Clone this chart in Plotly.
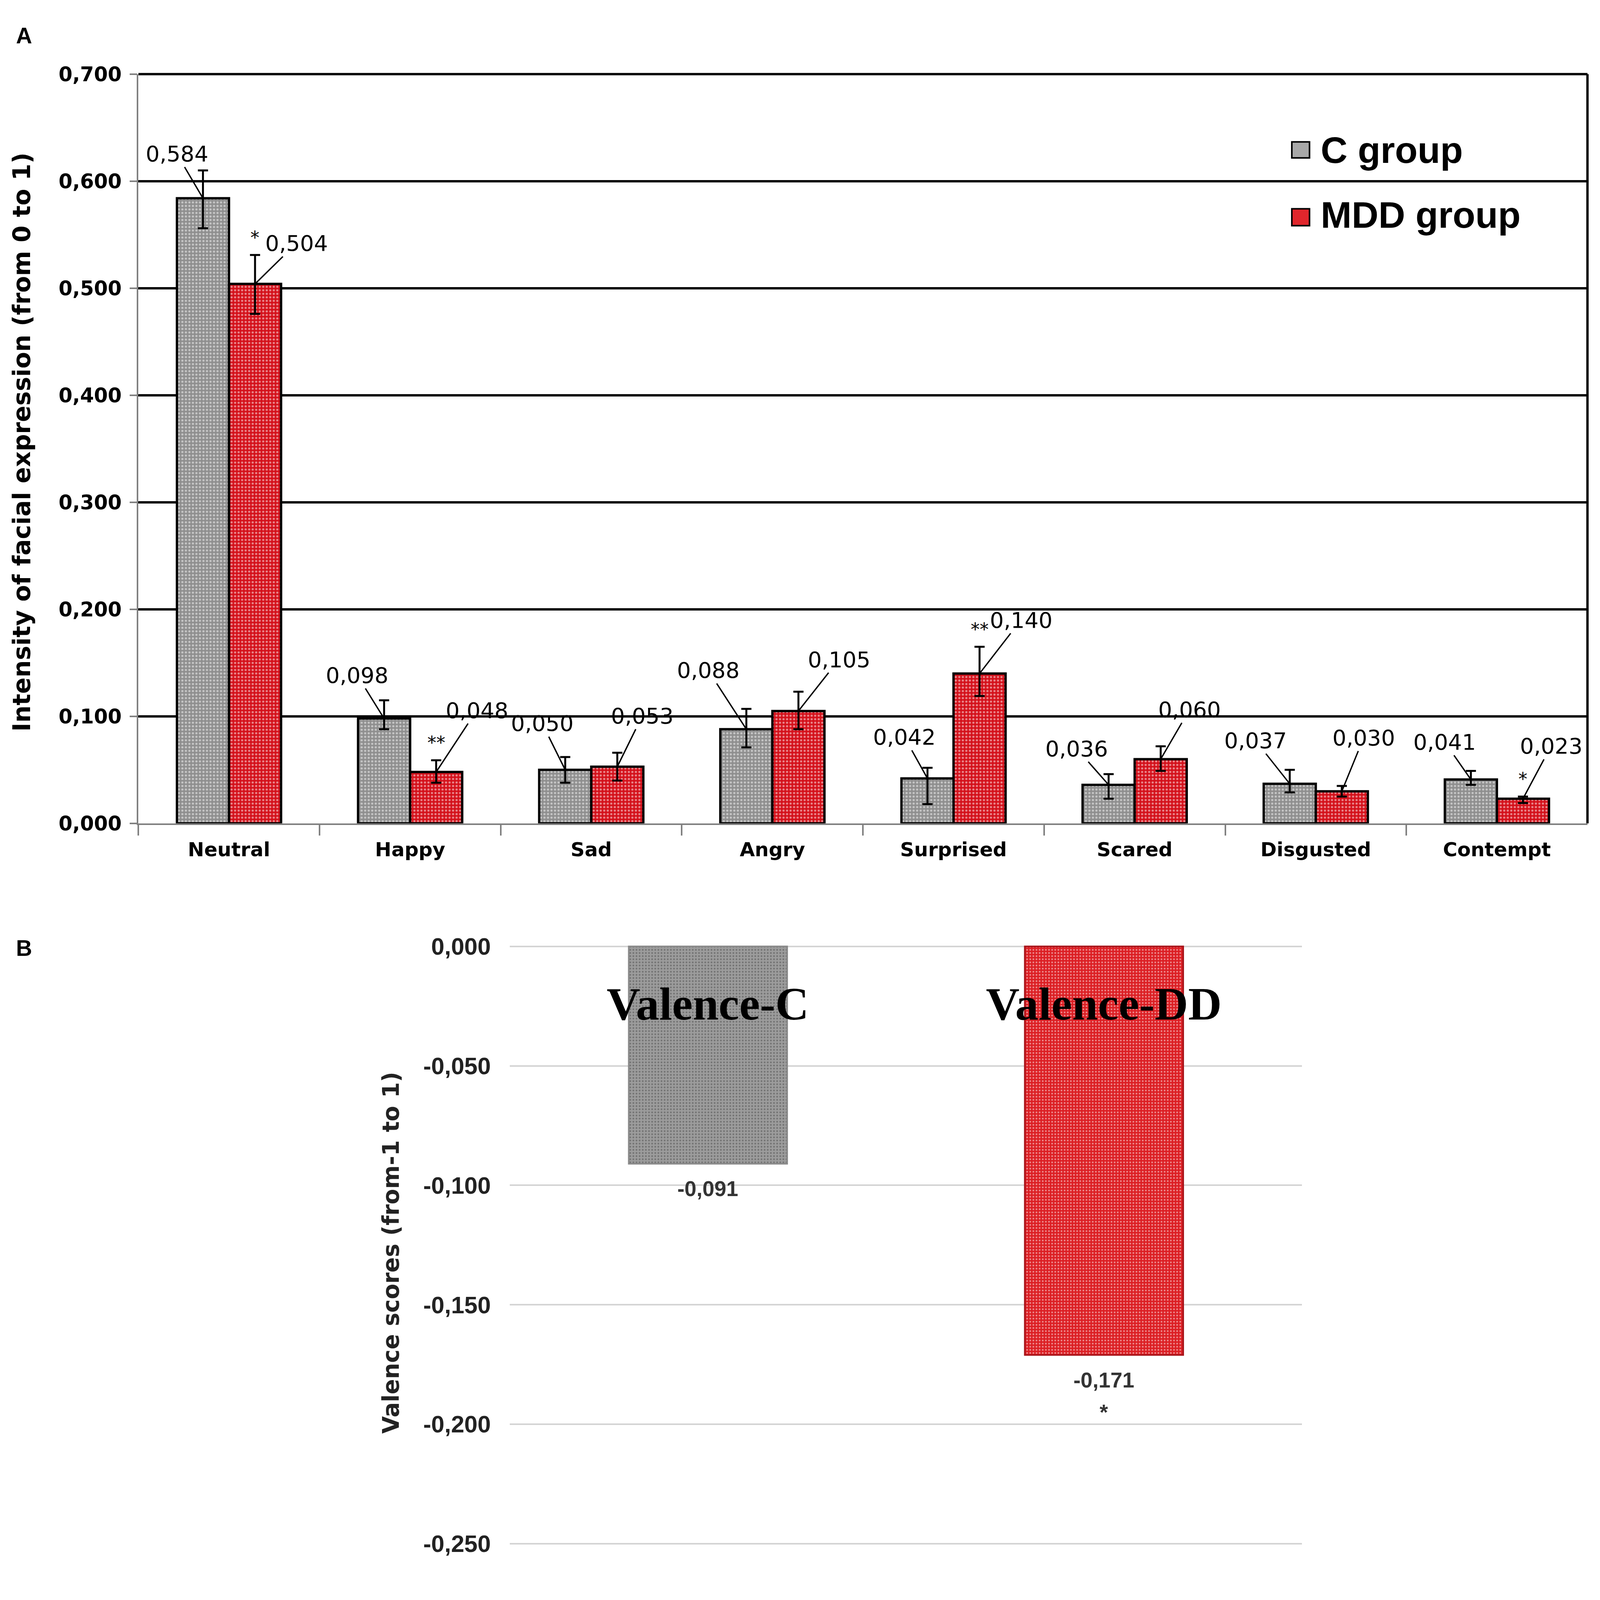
import plotly.graph_objects as go

# panel A data
emotions = ["Neutral", "Happy", "Sad", "Angry", "Surprised", "Scared", "Disgusted", "Contempt"]
c_group = [0.584, 0.098, 0.050, 0.088, 0.042, 0.036, 0.037, 0.041]
mdd_group = [0.504, 0.048, 0.053, 0.105, 0.140, 0.060, 0.030, 0.023]
c_err_up = [0.026, 0.017, 0.012, 0.019, 0.010, 0.010, 0.013, 0.008]
c_err_down = [0.028, 0.010, 0.012, 0.017, 0.024, 0.013, 0.008, 0.005]
mdd_err_up = [0.027, 0.011, 0.013, 0.018, 0.025, 0.012, 0.005, 0.002]
mdd_err_down = [0.028, 0.010, 0.013, 0.017, 0.021, 0.011, 0.005, 0.004]
mdd_sig = ["*", "**", "", "", "**", "", "", "*"]
a_ticks = [0.0, 0.1, 0.2, 0.3, 0.4, 0.5, 0.6, 0.7]
a_ticktext = ["0,000", "0,100", "0,200", "0,300", "0,400", "0,500", "0,600", "0,700"]

# panel B data
valence_groups = ["Valence-C", "Valence-DD"]
valence_scores = [-0.091, -0.171]
valence_sig = ["", "*"]
b_ticks = [0.0, -0.05, -0.10, -0.15, -0.20, -0.25]
b_ticktext = ["0,000", "-0,050", "-0,100", "-0,150", "-0,200", "-0,250"]

# where the leader-line labels sit, in px from the bar top
c_offsets = [(-67, -114), (-69, -111), (-59, -119), (-98, -151), (-59, -106), (-82, -93), (-88, -111), (-67, -96)]
mdd_offsets = [(106, -104), (104, -158), (64, -130), (104, -132), (106, -137), (74, -127), (56, -137), (72, -135)]

GRAY = "#8f8f8f"
RED = "#d4111b"
BARGAP = 0.425
half = (1 - BARGAP) / 4
SANS = "DejaVu Sans"


def fmt(v):
    return f"{v:.3f}".replace(".", ",")


fig = go.Figure()
fig.add_trace(go.Bar(
    x=emotions, y=c_group, name="C group", xaxis="x", yaxis="y",
    marker=dict(color=GRAY, line=dict(color="black", width=6),
                pattern=dict(shape=".", fgcolor="white", fillmode="overlay", size=9, solidity=0.3)),
    error_y=dict(type="data", symmetric=False, array=c_err_up, arrayminus=c_err_down,
                 color="black", thickness=5, width=13)))
fig.add_trace(go.Bar(
    x=emotions, y=mdd_group, name="MDD group", xaxis="x", yaxis="y",
    marker=dict(color=RED, line=dict(color="black", width=6),
                pattern=dict(shape=".", fgcolor="white", fillmode="overlay", size=9, solidity=0.3)),
    error_y=dict(type="data", symmetric=False, array=mdd_err_up, arrayminus=mdd_err_down,
                 color="black", thickness=5, width=13)))

fig.add_trace(go.Bar(
    x=valence_groups, y=valence_scores, xaxis="x2", yaxis="y2", width=0.4, showlegend=False,
    marker=dict(color=["#9c9c9c", "#dc1f24"], line=dict(color=["#8a8a8a", "#a8141a"], width=4),
                pattern=dict(shape=".", fgcolor="white", fillmode="overlay", size=8, solidity=0.25))))

annotations = []
for i in range(len(emotions)):
    annotations.append(dict(
        x=i - half, y=c_group[i], xref="x", yref="y", text=fmt(c_group[i]),
        showarrow=True, arrowhead=0, arrowwidth=3.5, arrowcolor="black",
        ax=c_offsets[i][0], ay=c_offsets[i][1],
        font=dict(family=SANS, size=56, color="black")))
    annotations.append(dict(
        x=i + half, y=mdd_group[i], xref="x", yref="y", text=fmt(mdd_group[i]),
        showarrow=True, arrowhead=0, arrowwidth=3.5, arrowcolor="black",
        ax=mdd_offsets[i][0], ay=mdd_offsets[i][1],
        font=dict(family=SANS, size=56, color="black")))
    if mdd_sig[i]:
        annotations.append(dict(
            x=i + half, y=mdd_group[i] + mdd_err_up[i], xref="x", yref="y", text=mdd_sig[i],
            showarrow=False, xanchor="center", yanchor="bottom", yshift=16,
            font=dict(family=SANS, size=46, color="black")))

for i, g in enumerate(valence_groups):
    annotations.append(dict(
        x=i, y=-0.024, xref="x2", yref="y2", text=g, showarrow=False,
        xanchor="center", yanchor="middle",
        font=dict(family="Liberation Serif", size=119, color="black", weight="bold")))
    annotations.append(dict(
        x=i, y=valence_scores[i], xref="x2", yref="y2", text=fmt(valence_scores[i]), showarrow=False,
        xanchor="center", yanchor="middle", yshift=-64,
        font=dict(family="Liberation Sans", size=55, color="#333333", weight="bold")))
    if valence_sig[i]:
        annotations.append(dict(
            x=i, y=valence_scores[i], xref="x2", yref="y2", text=valence_sig[i], showarrow=False,
            xanchor="center", yanchor="middle", yshift=-146,
            font=dict(family="Liberation Sans", size=55, color="#333333", weight="bold")))

# panel letters, axis titles, legend
annotations += [
    dict(x=0.013, y=0.987, xref="paper", yref="paper", text="A", showarrow=False,
         xanchor="center", yanchor="middle",
         font=dict(family="Liberation Sans", size=57, color="black", weight="bold")),
    dict(x=0.013, y=0.4056, xref="paper", yref="paper", text="B", showarrow=False,
         xanchor="center", yanchor="middle",
         font=dict(family="Liberation Sans", size=57, color="black", weight="bold")),
    dict(x=0.0118, y=0.728, xref="paper", yref="paper", text="Intensity of facial expression (from 0 to 1)",
         textangle=-90, showarrow=False, xanchor="center", yanchor="middle",
         font=dict(family=SANS, size=62, color="black", weight="bold")),
    dict(x=0.2436, y=0.2117, xref="paper", yref="paper", text="Valence scores (from-1 to 1)",
         textangle=-90, showarrow=False, xanchor="center", yanchor="middle",
         font=dict(family=SANS, size=58, color="#222222", weight="bold")),
    dict(x=0.8263, y=0.9142, xref="paper", yref="paper", text="C group", showarrow=False,
         xanchor="left", yanchor="middle",
         font=dict(family="Liberation Sans", size=95, color="black", weight="bold")),
    dict(x=0.8263, y=0.8729, xref="paper", yref="paper", text="MDD group", showarrow=False,
         xanchor="left", yanchor="middle",
         font=dict(family="Liberation Sans", size=95, color="black", weight="bold")),
]

shapes = [
    dict(type="line", xref="x domain", yref="y domain", x0=0, x1=1, y0=1, y1=1,
         line=dict(color="black", width=6)),
    dict(type="line", xref="x domain", yref="y domain", x0=1, x1=1, y0=0, y1=1,
         line=dict(color="black", width=6)),
    dict(type="rect", xref="paper", yref="paper", x0=0.8086, x1=0.8197, y0=0.9091, y1=0.9193,
         fillcolor="#a8a8a8", line=dict(color="black", width=4)),
    dict(type="rect", xref="paper", yref="paper", x0=0.8086, x1=0.8197, y0=0.8659, y1=0.8767,
         fillcolor="#e0262c", line=dict(color="black", width=4)),
]

fig.update_layout(
    width=4080, height=4080, autosize=False,
    margin=dict(l=0, r=0, t=0, b=0),
    paper_bgcolor="white", plot_bgcolor="white",
    barmode="group", bargap=BARGAP, bargroupgap=0,
    showlegend=False,
    annotations=annotations, shapes=shapes,
    xaxis=dict(domain=[0.0849, 0.9941], anchor="y", type="category",
               showline=True, linecolor="#808080", linewidth=3.5,
               ticks="outside", tickson="boundaries", ticklen=27, tickwidth=3.5, tickcolor="#808080",
               ticklabelstandoff=20, showgrid=False,
               tickfont=dict(family=SANS, size=50, color="black", weight="bold")),
    yaxis=dict(domain=[0.4851, 0.9625], anchor="x", range=[0, 0.7],
               tickvals=a_ticks, ticktext=a_ticktext,
               showline=True, linecolor="#808080", linewidth=3.5,
               ticks="outside", ticklen=19, tickwidth=3.5, tickcolor="#808080", ticklabelstandoff=10,
               showgrid=True, gridcolor="black", gridwidth=6, zeroline=False,
               tickfont=dict(family=SANS, size=51, color="black", weight="bold")),
    xaxis2=dict(domain=[0.318, 0.815], anchor="y2", type="category", range=[-0.5, 1.5],
                showticklabels=False, showline=False, ticks="", showgrid=False),
    yaxis2=dict(domain=[0.0254, 0.4075], anchor="x2", range=[-0.2505, 0.0005],
                tickvals=b_ticks, ticktext=b_ticktext, ticks="", ticklabelstandoff=48,
                showline=False, showgrid=True, gridcolor="#d4d4d4", gridwidth=3.5, zeroline=False,
                tickfont=dict(family="Liberation Sans", size=61, color="#222222", weight="bold")),
)

fig.write_html("out.html")
